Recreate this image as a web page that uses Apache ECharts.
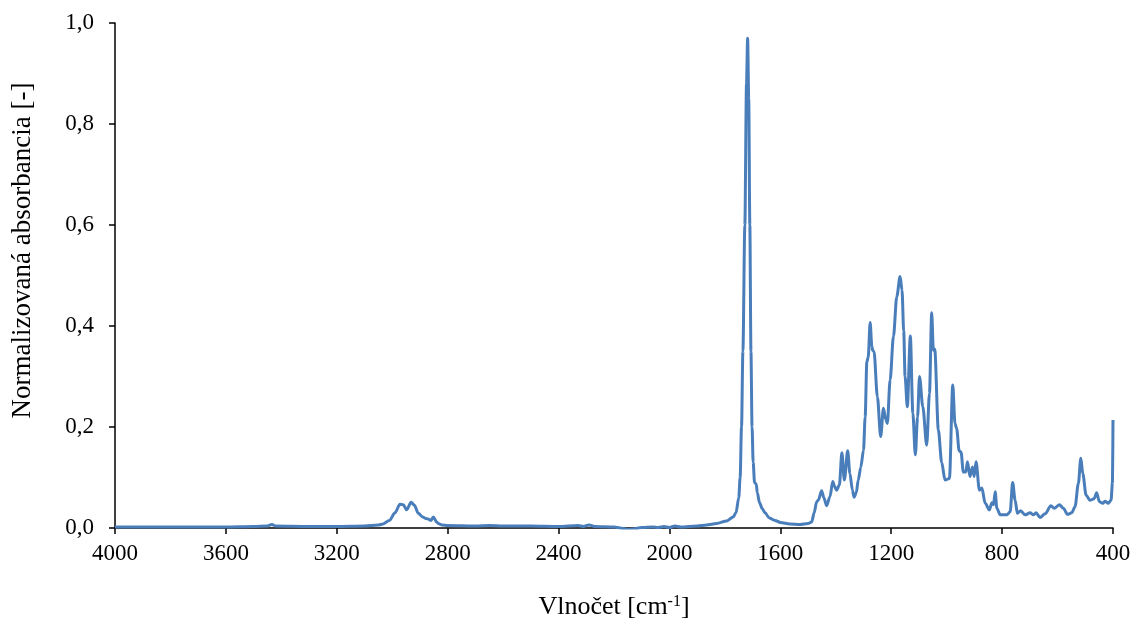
<!DOCTYPE html>
<html>
<head>
<meta charset="utf-8">
<script src="https://cdn.jsdelivr.net/npm/echarts@6/dist/echarts.min.js"></script>
<style>
	html, body { margin: 0; padding: 0; background: #fff; }
	#chart { width: 1136px; height: 631px; }
</style>
</head>
<body>
<div id="chart"></div>
<script>
// FTIR spectrum - wavenumber [cm-1] vs normalized absorbance
var wavenumber = [
	4000, 3800, 3600, 3500, 3450, 3434, 3420, 3300, 3200, 3100, 3050, 3033, 3010, 2990,
	2972, 2960, 2948, 2932, 2920, 2906, 2890, 2880, 2871, 2860, 2852, 2840, 2834, 2820,
	2800, 2700, 2650, 2600, 2500, 2400, 2330, 2310, 2290, 2270, 2200, 2167, 2150, 2131,
	2100, 2060, 2040, 2020, 2000, 1980, 1960, 1900, 1866, 1830, 1793, 1770, 1760, 1750,
	1745, 1740, 1735, 1728, 1722, 1718, 1714, 1710, 1706, 1702, 1698, 1693, 1687, 1683,
	1675, 1665, 1655, 1640, 1619, 1600, 1565, 1529, 1500, 1487, 1478, 1469, 1463, 1451,
	1443, 1433, 1421, 1411, 1404, 1397, 1387, 1378, 1369, 1357, 1349, 1340, 1334, 1326,
	1319, 1310, 1300, 1294, 1288, 1283, 1276, 1270, 1267, 1262, 1250, 1238, 1228, 1220,
	1214, 1204, 1192, 1180, 1168, 1161, 1155, 1150, 1142, 1131, 1122, 1113, 1105, 1098,
	1086, 1072, 1062, 1054, 1048, 1043, 1030, 1018, 1006, 990, 978, 970, 964, 955,
	948, 940, 931, 925, 916, 907, 901, 894, 882, 873, 861, 846, 837, 831,
	825, 819, 807, 783, 771, 762, 753, 745, 733, 717, 699, 687, 678, 663,
	645, 624, 612, 593, 579, 564, 549, 537, 525, 516, 509, 497, 483, 468,
	459, 449, 437, 429, 417, 407, 402, 400
];
var absorbance = [
	0.002, 0.002, 0.002, 0.003, 0.004, 0.007, 0.004, 0.003, 0.003, 0.004, 0.006, 0.008, 0.015, 0.030,
	0.047, 0.046, 0.036, 0.051, 0.045, 0.029, 0.022, 0.019, 0.018, 0.015, 0.022, 0.012, 0.009, 0.006,
	0.005, 0.004, 0.005, 0.004, 0.004, 0.003, 0.005, 0.003, 0.006, 0.003, 0.002, -0.001, -0.003, -0.002,
	0.001, 0.002, 0.001, 0.003, 0.001, 0.004, 0.002, 0.004, 0.006, 0.009, 0.014, 0.022, 0.030, 0.060,
	0.100, 0.200, 0.350, 0.600, 0.880, 0.970, 0.850, 0.600, 0.350, 0.200, 0.130, 0.090, 0.087, 0.070,
	0.050, 0.038, 0.030, 0.020, 0.015, 0.011, 0.008, 0.007, 0.009, 0.012, 0.030, 0.052, 0.055, 0.074,
	0.060, 0.044, 0.062, 0.092, 0.082, 0.075, 0.085, 0.149, 0.095, 0.153, 0.108, 0.075, 0.061, 0.070,
	0.095, 0.120, 0.154, 0.220, 0.329, 0.338, 0.407, 0.360, 0.352, 0.349, 0.260, 0.181, 0.237, 0.215,
	0.207, 0.293, 0.379, 0.458, 0.498, 0.471, 0.390, 0.300, 0.240, 0.380, 0.227, 0.145, 0.220, 0.300,
	0.240, 0.164, 0.267, 0.426, 0.352, 0.354, 0.194, 0.130, 0.095, 0.098, 0.283, 0.207, 0.197, 0.153,
	0.150, 0.111, 0.111, 0.131, 0.102, 0.121, 0.102, 0.131, 0.075, 0.079, 0.049, 0.036, 0.050, 0.046,
	0.072, 0.039, 0.026, 0.026, 0.032, 0.090, 0.055, 0.029, 0.034, 0.026, 0.030, 0.026, 0.030, 0.021,
	0.028, 0.044, 0.039, 0.046, 0.039, 0.027, 0.030, 0.042, 0.088, 0.138, 0.108, 0.065, 0.055, 0.058,
	0.070, 0.052, 0.049, 0.053, 0.049, 0.055, 0.090, 0.214
];

var points = wavenumber.map(function(w, i) { return [w, absorbance[i]]; });

var myChart = echarts.init(document.getElementById('chart'));
var serif = '"Liberation Serif", "Times New Roman", serif';
var option = {
	animation: false,
	grid: {
		left: 115,
		right: 23,
		top: 23,
		bottom: 103
	},
	xAxis: {
		type: 'value',
		inverse: true,
		min: 400,
		max: 4000,
		interval: 400,
		name: '{a|Vlnočet [cm}{s|-1}{a|]}',
		nameLocation: 'middle',
		nameGap: 66,
		nameTextStyle: {
			rich: {
				a: { fontFamily: serif, fontSize: 26, color: '#000', verticalAlign: 'bottom' },
				s: { fontFamily: serif, fontSize: 16, color: '#000', verticalAlign: 'top', padding: [0, 0, 10, 0] }
			}
		},
		axisLine: { show: true, onZero: false, lineStyle: { color: '#000', width: 1.5 } },
		axisTick: { show: true, inside: false, length: 6, lineStyle: { color: '#000', width: 1.5 } },
		axisLabel: {
			fontFamily: serif, fontSize: 23, color: '#000', margin: 14,
			formatter: function(v) { return String(v); }
		},
		splitLine: { show: false }
	},
	yAxis: {
		type: 'value',
		min: 0,
		max: 1,
		interval: 0.2,
		name: 'Normalizovaná absorbancia [-]',
		nameLocation: 'middle',
		nameGap: 79,
		nameTextStyle: { fontFamily: serif, fontSize: 27, color: '#000', padding: [0, 0, 0, 50] },
		axisLine: { show: true, lineStyle: { color: '#000', width: 1.5 } },
		axisTick: { show: true, inside: false, length: 6, lineStyle: { color: '#000', width: 1.5 } },
		axisLabel: {
			fontFamily: serif, fontSize: 23, color: '#000', margin: 21,
			formatter: function(v) { return v.toFixed(1).replace('.', ','); }
		},
		splitLine: { show: false }
	},
	series: [
		{
			name: 'Absorbancia',
			type: 'line',
			data: points,
			showSymbol: false,
			symbol: 'none',
			smooth: 0.3,
			smoothMonotone: 'x',
			lineStyle: { color: '#4a7ebb', width: 3 },
			clip: true
		}
	]
};
myChart.setOption(option);
</script>
</body>
</html>
